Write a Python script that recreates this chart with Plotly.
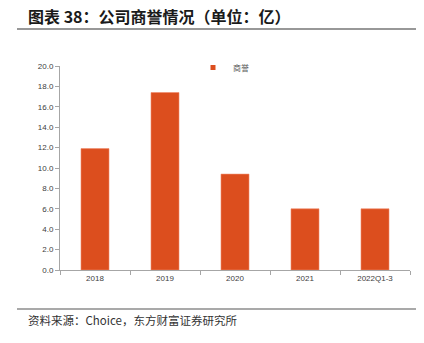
import plotly.graph_objects as go

categories = ["2018", "2019", "2020", "2021", "2022Q1-3"]
goodwill = [11.9, 17.4, 9.4, 6.0, 6.0]
y_ticks = [0, 2, 4, 6, 8, 10, 12, 14, 16, 18, 20]
series_name = "商誉"

BAR = "#DC4E1E"
W, H = 424, 343
L, R, T, B = 60, 14, 66, 73
pw, ph = W - L - R, H - T - B

def px_x(p):
    return (p - L) / pw

def px_y(p):
    return (H - B - p) / ph

fig = go.Figure()
fig.add_trace(go.Bar(
    x=categories, y=goodwill, name=series_name,
    marker=dict(color=BAR, line=dict(color="#F0896A", width=0.6)),
    showlegend=False,
))
# legend-only entry with a small square swatch
fig.add_trace(go.Scatter(
    x=[None], y=[None], mode="markers", name=series_name,
    marker=dict(symbol="square", size=5, color=BAR),
    showlegend=True,
))

fig.update_layout(
    width=W, height=H,
    margin=dict(l=L, r=R, t=T, b=B),
    paper_bgcolor="white", plot_bgcolor="white",
    bargap=0.6,
    font=dict(family="Liberation Sans, Arial, sans-serif", size=8, color="#404040"),
    showlegend=True,
    legend=dict(x=px_x(193), y=px_y(53), xanchor="left", yanchor="top",
                bgcolor="rgba(0,0,0,0)", font=dict(size=8, color="#595959",
                family="Noto Sans CJK SC"), itemwidth=30, tracegroupgap=0),
    xaxis=dict(
        showline=True, linecolor="#A6A6A6", linewidth=1,
        ticks="outside", ticklen=4, tickcolor="#A6A6A6",
        tickson="boundaries", showgrid=False, zeroline=False,
        tickfont=dict(size=8, color="#404040"),
    ),
    yaxis=dict(
        range=[0, 20], tickvals=y_ticks, tickformat=".1f",
        showline=True, linecolor="#A6A6A6", linewidth=1,
        ticks="outside", ticklen=4, tickcolor="#A6A6A6",
        showgrid=False, zeroline=False,
        tickfont=dict(size=8, color="#404040"),
    ),
)

fig.add_annotation(
    text="<b>图表 38：公司商誉情况（单位：亿）</b>",
    xref="paper", yref="paper", x=px_x(26), y=px_y(16),
    xanchor="left", yanchor="middle", showarrow=False,
    font=dict(family="Noto Sans CJK SC", size=16, color="#1a1a1a"),
)
fig.add_annotation(
    text="资料来源：Choice，东方财富证券研究所",
    xref="paper", yref="paper", x=px_x(26), y=px_y(320),
    xanchor="left", yanchor="middle", showarrow=False,
    font=dict(family="Noto Sans CJK SC", size=11.5, color="#333333"),
)
fig.add_shape(type="line", xref="paper", yref="paper",
              x0=px_x(17), x1=px_x(416), y0=px_y(29), y1=px_y(29),
              line=dict(color="#333333", width=1.2))
fig.add_shape(type="line", xref="paper", yref="paper",
              x0=px_x(17), x1=px_x(416), y0=px_y(309), y1=px_y(309),
              line=dict(color="#555555", width=1.2))

fig.write_html("out.html")
